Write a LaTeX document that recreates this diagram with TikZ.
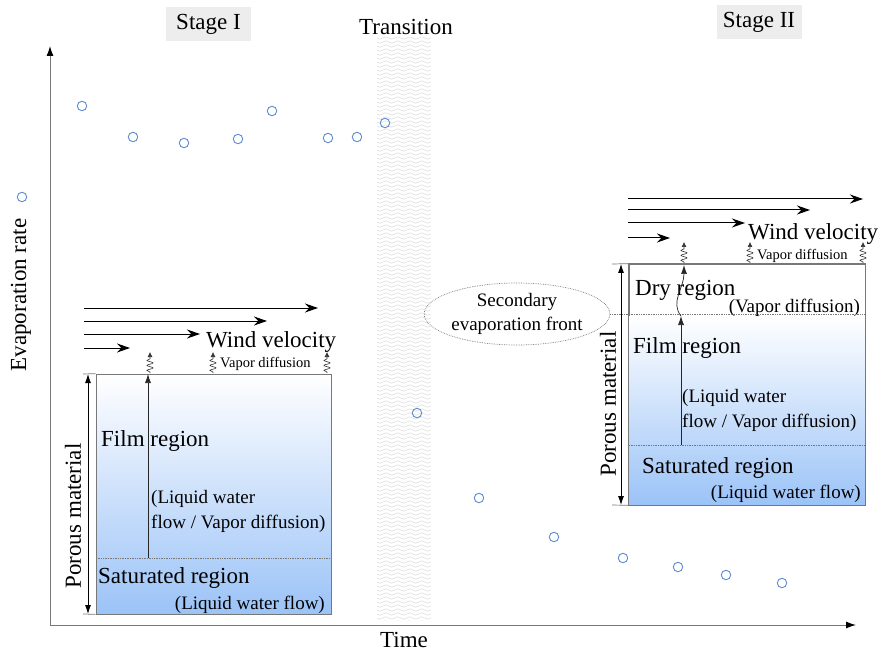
\documentclass[tikz,border=0pt]{standalone}
\usepackage{fontspec}
\setmainfont{Liberation Serif}
\usetikzlibrary{positioning,arrows.meta,decorations.pathmorphing,shapes.geometric}

\definecolor{dotblue}{RGB}{95,140,210}
\definecolor{matblue}{RGB}{155,195,247}
\definecolor{stagegray}{RGB}{237,237,237}
\definecolor{wavegray}{RGB}{226,226,226}
\definecolor{edgegray}{RGB}{120,120,120}

\tikzset{
  big/.style={font=\fontsize{23}{26}\selectfont,inner sep=0pt},
  mid/.style={font=\fontsize{19}{24}\selectfont,inner sep=0pt},
  vaportext/.style={font=\fontsize{14.5}{16}\selectfont,inner sep=0pt},
  evap/.style={circle,draw=dotblue,line width=0.9pt,minimum size=9.5pt,inner sep=0pt},
  stagebox/.style={big,fill=stagegray,minimum width=85pt,minimum height=34pt},
  axis/.style={edgegray,line width=1pt,-{Latex[length=10pt,width=7pt,black]}},
  wind/.style={line width=1pt,-{Stealth[length=13pt,width=9pt]}},
  vapor/.style={black!80,line width=0.6pt,-{Latex[length=5pt,width=5pt]},decorate,
    decoration={snake,amplitude=3pt,segment length=5pt,pre length=1pt,post length=5pt}},
  flow/.style={black!85,line width=0.7pt,-{Latex[length=9pt,width=6pt]}},
  porous/.style={line width=0.8pt,{Latex[length=9pt,width=6pt]}-{Latex[length=9pt,width=6pt]}},
  front/.style={edgegray,densely dotted,line width=0.7pt},
  matbox/.style={draw=edgegray,line width=0.7pt,inner sep=0pt},
  wave/.style={wavegray,line width=0.7pt,decorate,decoration={snake,amplitude=1.2pt,segment length=12pt}}
}

\begin{document}
\begin{tikzpicture}[x=1pt,y=-1pt]
\useasboundingbox (0,0) rectangle (883,652);

% transition band
\begin{scope}
  \clip (377,38) rectangle (431,620);
  \foreach \k in {0,...,146}
    \draw[wave] (370,{38+4*\k}) -- (440,{38+4*\k});
\end{scope}

% axes
\coordinate (O) at (50,625);
\coordinate (ytip) at (50,46);
\coordinate (xtip) at (856,625);
\draw[axis] (O) -- (ytip);
\draw[axis] (O) -- (xtip);
\node[big,rotate=90] (ylabel) at (21,295) {Evaporation rate};
\node[big,anchor=base] (xlabel) at (404,647) {Time};

% stages
\node[stagebox] (stage1) at (208.5,24.5) {Stage I};
\node[stagebox] (stage2) at (759,22) {Stage II};
\node[big,anchor=base] (trans) at (406,35) {Transition};

% measured evaporation rate
\foreach \x/\y [count=\i] in {22/197,82/106,133/137,184/143,238/139,272/111,328/138,357/137,
    385/123,417/413,479/498,554/537,623/558,678/567,726/575,782/583}
  \node[evap] (p\i) at (\x,\y) {};

% ---- stage I material ----
\node[matbox,top color=white,bottom color=matblue,minimum width=235pt,minimum height=240pt] (lmat) at (213.5,494) {};
\coordinate (lsat) at (96,558);
\draw[front] (lsat) -- (lsat -| lmat.east);
\coordinate (ltopl) at (83,374);
\coordinate (lbotl) at (83,614);
\draw[edgegray,line width=0.7pt] (ltopl) -- (lmat.north west);
\draw[edgegray,line width=0.7pt] (lbotl) -- (lmat.south west);
\coordinate (lpt) at (88,374);
\coordinate (lpb) at (88,614);
\draw[porous] (lpb) -- (lpt);
\node[big,rotate=90] (lporous) at (73,516) {Porous material};

\node[big,anchor=base west] (lfilm) at (101,446) {Film region};
\node[mid,anchor=base west] (lfilm1) at (151,503) {(Liquid water};
\node[mid,anchor=base west] (lfilm2) at (151,528) {flow / Vapor diffusion)};
\node[big,anchor=base west] (lsatt) at (98,583) {Saturated region};
\node[mid,anchor=base east] (lsat2) at (325,609) {(Liquid water flow)};

\coordinate (lflowb) at (148,558);
\coordinate (lflowt) at (148,374);
\draw[flow] (lflowb) -- (lflowt);

\foreach \x [count=\i] in {150,213,327} {
  \coordinate (lvb\i) at (\x,373);
  \coordinate (lvt\i) at (\x,352);
  \draw[vapor] (lvb\i) -- (lvt\i);
}
\node[vaportext,anchor=base west] (lvap) at (220,367) {Vapor diffusion};

\foreach \y/\xe [count=\i] in {308/318,321/267,334/200,348/130} {
  \coordinate (lws\i) at (84,\y);
  \coordinate (lwe\i) at (\xe,\y);
  \draw[wind] (lws\i) -- (lwe\i);
}
\node[big,anchor=base west] (lwind) at (206,347) {Wind velocity};

% ---- stage II material ----
\node[matbox,fill=white,minimum width=236pt,minimum height=241pt] (rmat) at (747,384.5) {};
\shade[top color=white,bottom color=matblue] (629,316) rectangle (865,505);
\draw[edgegray,line width=0.7pt] (rmat.north west) rectangle (rmat.south east);
\coordinate (rdry) at (629,316);
\coordinate (rsat) at (629,445);
\draw[front] (rsat) -- (rsat -| rmat.east);
\coordinate (rtopl) at (612,264);
\coordinate (rbotl) at (612,505);
\draw[edgegray,line width=0.7pt] (rtopl) -- (rmat.north west);
\draw[edgegray,line width=0.7pt] (rbotl) -- (rmat.south west);
\coordinate (rpt) at (621,264);
\coordinate (rpb) at (621,505);
\draw[porous] (rpb) -- (rpt);
\node[big,rotate=90] (rporous) at (608,404) {Porous material};

\node[big,anchor=base west] (rdryt) at (635,295) {Dry region};
\node[mid,anchor=base east] (rdry2) at (860,312) {(Vapor diffusion)};
\node[big,anchor=base west] (rfilm) at (633,353) {Film region};
\node[mid,anchor=base west] (rfilm1) at (682,402) {(Liquid water};
\node[mid,anchor=base west] (rfilm2) at (682,427) {flow / Vapor diffusion)};
\node[big,anchor=base west] (rsatt) at (642,473) {Saturated region};
\node[mid,anchor=base east] (rsat2) at (861,498) {(Liquid water flow)};

\node[ellipse,draw=edgegray,densely dotted,line width=0.7pt,mid,align=center,
  minimum width=160pt,minimum height=62pt] (secfront) at (517,314) {Secondary\\evaporation front};
\draw[front] (secfront.east) -- (secfront.east -| rmat.east);

\coordinate (rflowb) at (681,445);
\coordinate (rflowt) at (681,316);
\coordinate (rsurf) at (684,265);
\draw[flow] (rflowb) -- (rflowt);
\draw[flow] (rflowt) .. controls (670,302) and (684,288) .. (rsurf);

\foreach \x [count=\i] in {684,750,863} {
  \coordinate (rvb\i) at (\x,263);
  \coordinate (rvt\i) at (\x,242);
  \draw[vapor] (rvb\i) -- (rvt\i);
}
\node[vaportext,anchor=base west] (rvap) at (757,260) {Vapor diffusion};

\foreach \y/\xe [count=\i] in {199/863,210/810,223/745,238/670} {
  \coordinate (rws\i) at (628,\y);
  \coordinate (rwe\i) at (\xe,\y);
  \draw[wind] (rws\i) -- (rwe\i);
}
\node[big,anchor=base west] (rwind) at (748,240) {Wind velocity};
\end{tikzpicture}
\end{document}
